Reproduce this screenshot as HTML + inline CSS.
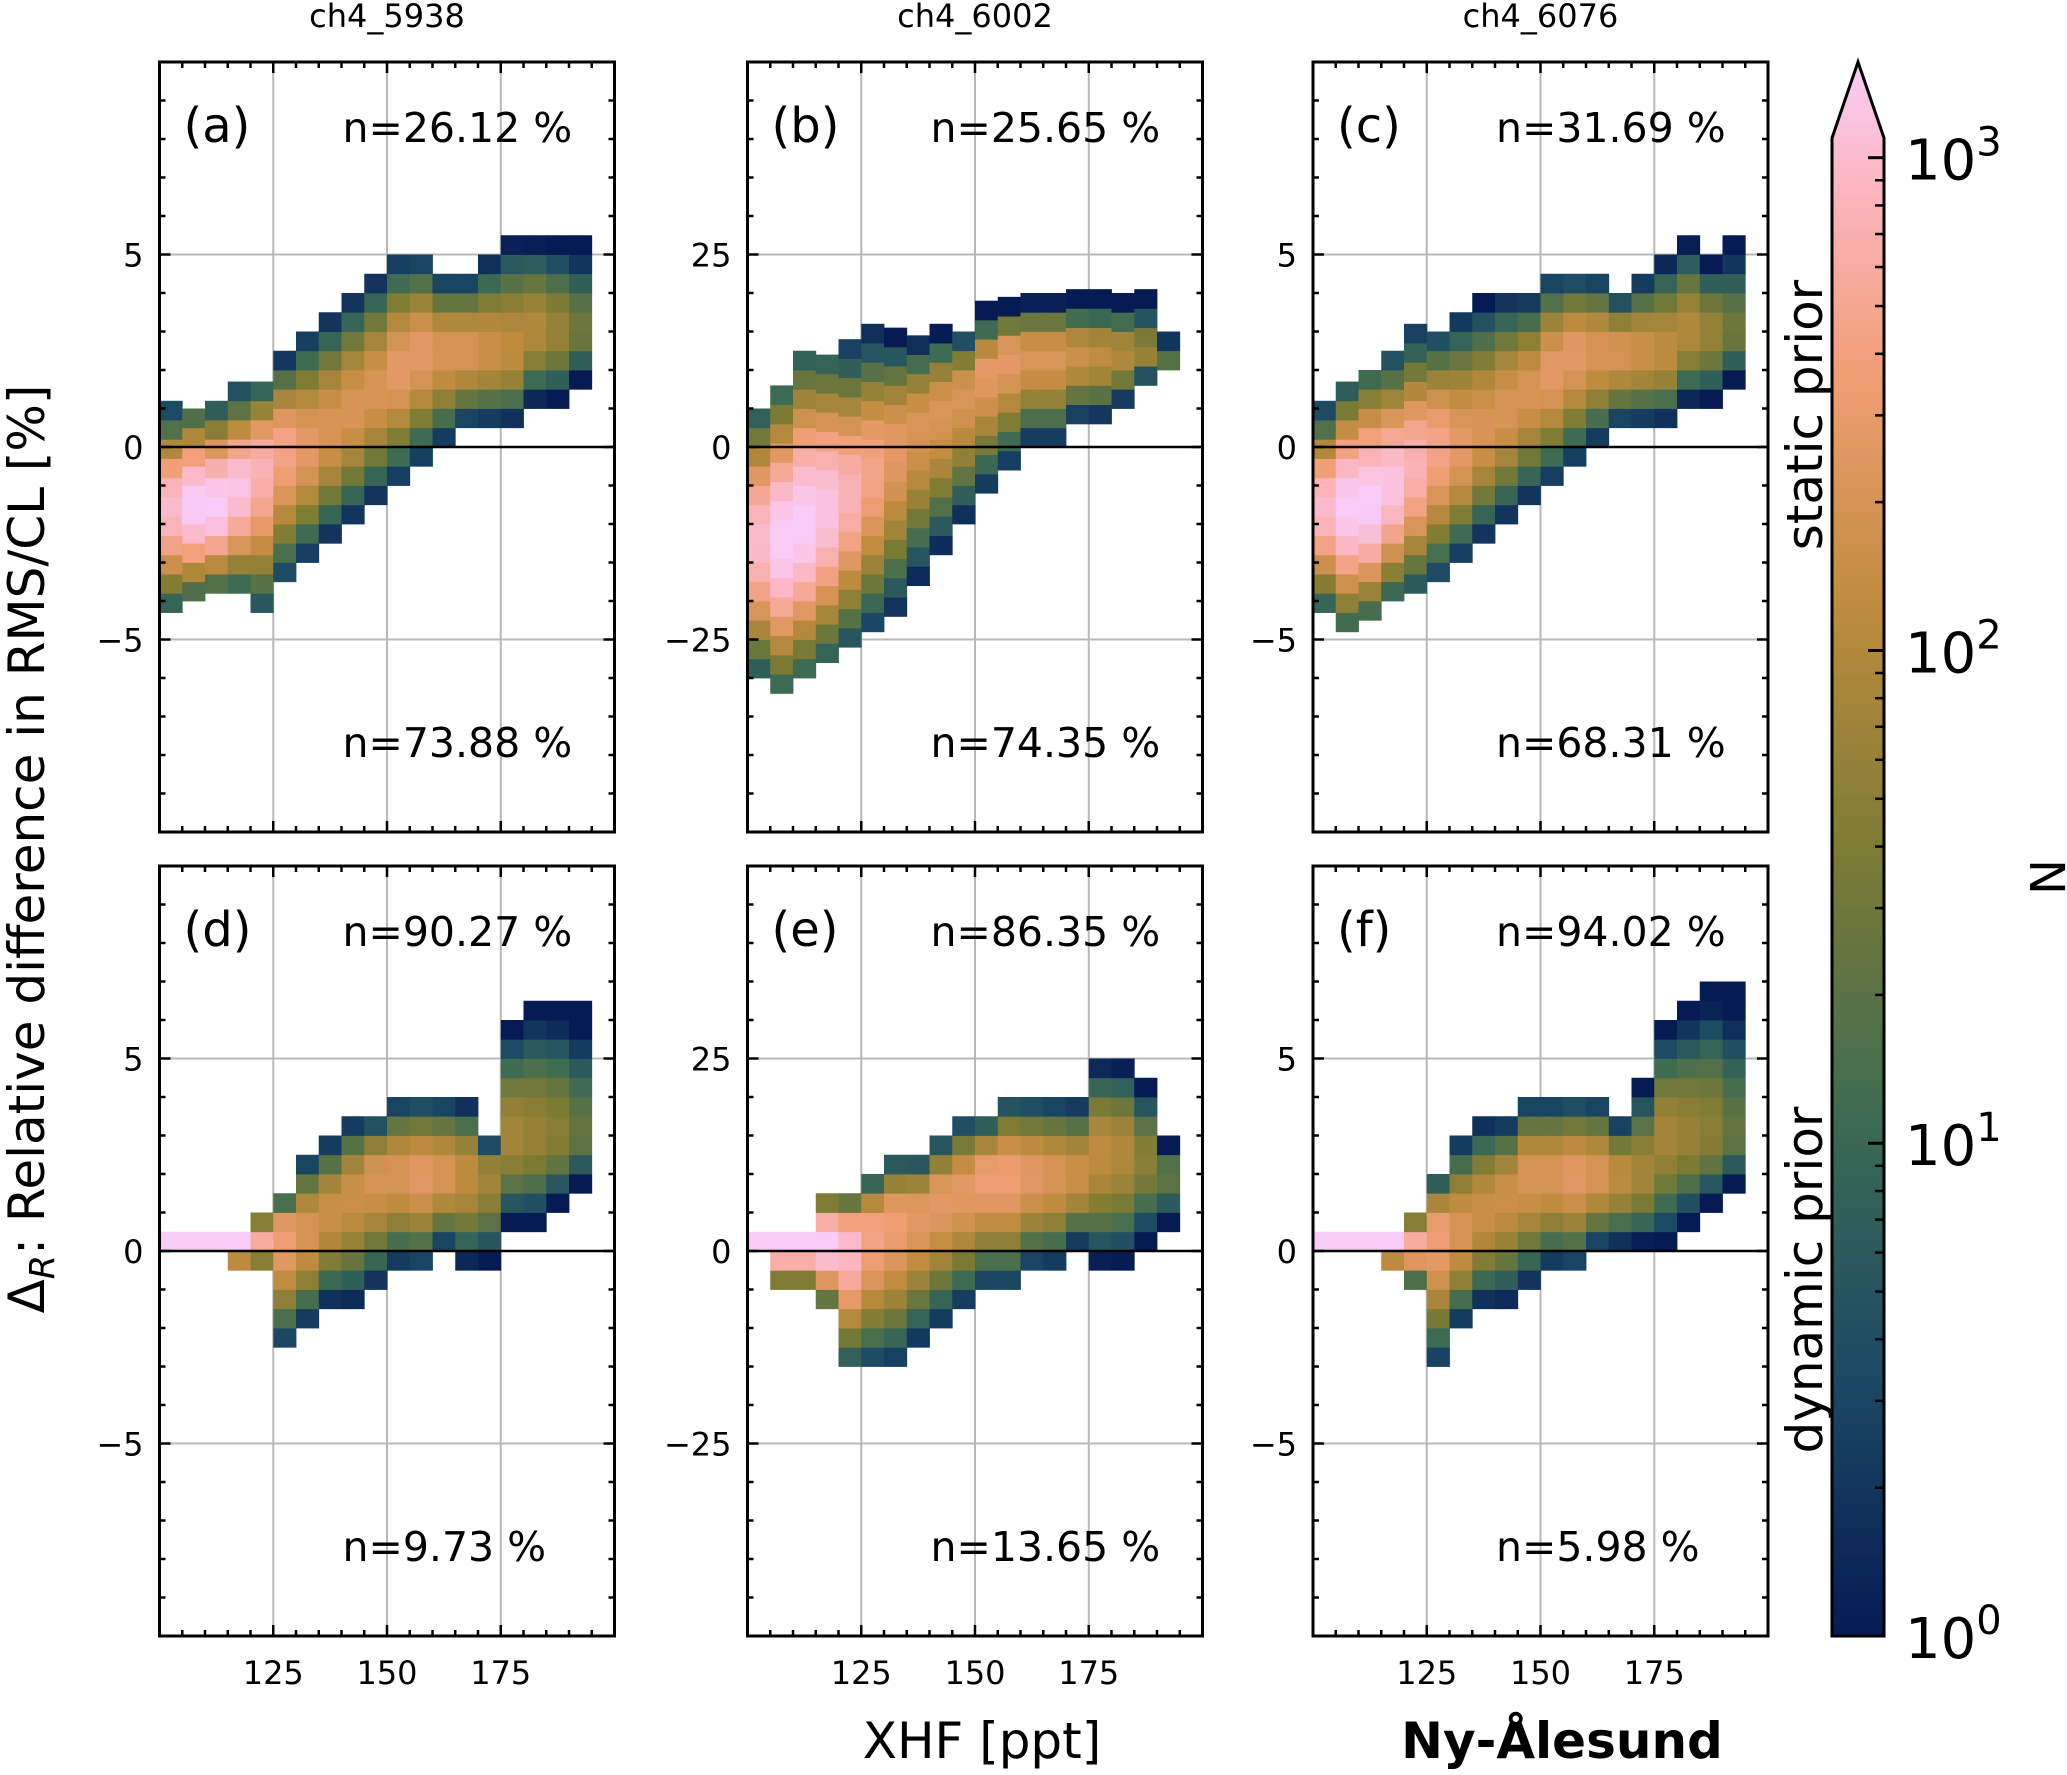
<!DOCTYPE html>
<html><head><meta charset="utf-8"><style>
html,body{margin:0;padding:0;background:#fff;}
svg{display:block;font-family:"DejaVu Sans","Liberation Sans",sans-serif;}
</style></head><body>
<svg id="fig" width="2067" height="1775" viewBox="0 0 2067 1775" xmlns="http://www.w3.org/2000/svg">
<defs>
<linearGradient id="cbg" x1="0" y1="1" x2="0" y2="0">
<stop offset="0" stop-color="#061b54"/><stop offset="0.17" stop-color="#1c4a64"/><stop offset="0.33" stop-color="#3d6b52"/>
<stop offset="0.5" stop-color="#7d7b34"/><stop offset="0.66" stop-color="#c08c3f"/><stop offset="0.8" stop-color="#f09e74"/>
<stop offset="0.92" stop-color="#fbb6c0"/><stop offset="1" stop-color="#f9ccf8"/>
</linearGradient>
</defs>
</svg>
<script>
// ---- data (x segments 100..190 step 5 ppt) ----
const xSeg = [100,105,110,115,120,125,130,135,140,145,150,155,160,165,170,175,180,185,190];
const aLo = [-4.3,-4,-3.8,-3.8,-4.3,-3.5,-3,-2.5,-2,-1.5,-1,-0.5,0,0.5,0.5,0.5,1,1,1.5];
const aHi = [0.8,1,1,1.3,1.7,2.3,3,3.5,4,4.5,5,5,4.5,4.5,5,5.5,5.5,5.5,5.5];
const aCtr = [-1.5,-1.5,-1.5,-1,-0.5,0,0,0.5,1,1.5,2,2.5,2.5,2.5,2.5,2.5,3,3,3];
const aPeak = [2.8,3,3,2.9,2.7,2.5,2.3,2.2,2.2,2.2,2.3,2.3,2.2,2.2,2.1,2,1.9,1.7,1.4];
const bLo = [-30,-32,-30,-28,-26,-24,-22,-18,-14,-10,-6,-3,0,0,3,3,5,8,10];
const bHi = [5,8,12,12,12,14,14,14,15,15,17,18,19,19,19,19,19,19,14];
const bCtr = [-12,-12,-10,-8,-6,-3,0,3,5,7,10,12,12,12,12,12,12,12,12];
const bPeak = [2.8,3,3,2.9,2.7,2.5,2.3,2.2,2.2,2.2,2.3,2.3,2.2,2.2,2.1,2,1.9,1.7,1.4];
const cLo = [-4.3,-4.8,-4.5,-4,-3.8,-3.5,-3,-2.5,-2,-1.5,-1,-0.5,0,0.5,0.5,0.5,1,1,1.5];
const cHi = [0.8,1.5,2,2.2,2.8,3,3.5,3.8,4,4,4.5,4.5,4.5,4,4.5,5,5.5,5,5.5];
const cCtr = [-1.5,-1.5,-1.5,-1,-0.5,0,0,0.5,1,1.5,2,2.5,2.5,2.5,2.5,2.5,3,3,3];
const cPeak = [2.8,3,3,2.9,2.7,2.5,2.3,2.2,2.2,2.2,2.3,2.3,2.2,2.2,2.1,2,1.9,1.7,1.4];
const dLo = [0,0,0,-0.5,-0.5,-2.5,-2,-1.5,-1.5,-1,-0.5,-0.5,0,-0.5,-0.5,0.5,0.5,1,1.5];
const dHi = [0.5,0.5,0.5,0.5,1,1.5,2.5,3,3.5,3.5,4,4,4,4,3,6,6.5,6.5,6.5];
const dCtr = [0.25,0.25,0.25,0.25,0.25,0.5,0.5,1,1.5,2,2,2,2,2,2,3,3,3,3];
const dPeak = [3,3,3,3,2.6,2.4,2.2,2.1,2.1,2.2,2.2,2.3,2.2,2,1.8,1.8,1.7,1.6,1.3];
const eLo = [0,-5,-5,-7.5,-15,-15,-15,-12.5,-10,-7.5,-5,-5,-2.5,-2.5,0,-2.5,-2.5,0,2.5];
const eHi = [2.5,2.5,2.5,7.5,7.5,10,12.5,12.5,15,17.5,17.5,20,20,20,20,25,25,22.5,15];
const eCtr = [1.25,1.25,1.25,1.25,1.25,2.5,4,5,7,8,10,10,10,10,10,13,13,12,10];
const ePeak = [3,3,3,3,2.8,2.5,2.4,2.3,2.3,2.3,2.4,2.4,2.3,2.2,2.1,2,1.9,1.6,1.3];
const fLo = [0,0,0,-0.5,-1,-3,-2,-1.5,-1.5,-1,-0.5,-0.5,0,0,0,0,0.5,1,1.5];
const fHi = [0.5,0.5,0.5,0.5,1,2,3,3.5,3.5,4,4,4,4,3.5,4.5,6,6.5,7,7];
const fCtr = [0.25,0.25,0.25,0.25,0.25,0.5,0.5,1,1.5,2,2,2,2,2,2,3,3,3,3];
const fPeak = [3,3,3,3,2.6,2.4,2.2,2.1,2.1,2.2,2.2,2.3,2.2,2,1.8,1.8,1.7,1.6,1.3];
const labels = ["(a)","(b)","(c)","(d)","(e)","(f)"];
const nTop = ["n=26.12 %","n=25.65 %","n=31.69 %","n=90.27 %","n=86.35 %","n=94.02 %"];
const nBot = ["n=73.88 %","n=74.35 %","n=68.31 %","n=9.73 %","n=13.65 %","n=5.98 %"];
const titles = ["ch4_5938","ch4_6002","ch4_6076"];
const xTicks = [125,150,175];
const cbTicks = ["0","1","2","3"];

const NS="http://www.w3.org/2000/svg";
const svg=document.getElementById('fig');
function mk(tag,attrs,parent){const e=document.createElementNS(NS,tag);for(const k in attrs)e.setAttribute(k,attrs[k]);(parent||svg).appendChild(e);return e;}

const stops=[[0,[6,27,84]],[0.5,[28,74,100]],[1,[61,107,82]],[1.5,[125,123,52]],[2,[192,140,63]],[2.4,[240,158,116]],[2.75,[251,182,192]],[3,[249,204,248]]];
function cmap(v){v=Math.max(0,Math.min(3,v));for(let i=1;i<stops.length;i++){if(v<=stops[i][0]){const a=stops[i-1],b=stops[i];const t=(v-a[0])/(b[0]-a[0]);const c=a[1].map((x,j)=>Math.round(x+(b[1][j]-x)*t));return `rgb(${c})`;}}return 'rgb(249,204,248)';}

const cols=[159.5,747.5,1313];const rows=[62,866];const W=455,H=770;
const panels=[
 {lo:aLo,hi:aHi,ctr:aCtr,pk:aPeak,yr:10,dy:0.5,yt:[-5,0,5],mn:1},
 {lo:bLo,hi:bHi,ctr:bCtr,pk:bPeak,yr:50,dy:2.5,yt:[-25,0,25],mn:5},
 {lo:cLo,hi:cHi,ctr:cCtr,pk:cPeak,yr:10,dy:0.5,yt:[-5,0,5],mn:1},
 {lo:dLo,hi:dHi,ctr:dCtr,pk:dPeak,yr:10,dy:0.5,yt:[-5,0,5],mn:1},
 {lo:eLo,hi:eHi,ctr:eCtr,pk:ePeak,yr:50,dy:2.5,yt:[-25,0,25],mn:5},
 {lo:fLo,hi:fHi,ctr:fCtr,pk:fPeak,yr:10,dy:0.5,yt:[-5,0,5],mn:1}];

panels.forEach((p,pi)=>{
  const L=cols[pi%3],T=rows[Math.floor(pi/3)];
  const X=x=>L+(x-100)/100*W; const Y=y=>T+(p.yr-y)/(2*p.yr)*H;
  const g=mk('g',{});
  
  
  xTicks.forEach(t=>{const l=mk('line',{x1:X(t),x2:X(t),y1:T,y2:T+H,stroke:'#b8b8b8','stroke-width':2},g);});
  p.yt.forEach(t=>{const l=mk('line',{x1:L,x2:L+W,y1:Y(t),y2:Y(t),stroke:'#b8b8b8','stroke-width':2},g);});
  xSeg.forEach((xs,i)=>{
    for(let k=0;k<2;k++){
      const x0=xs+k*2.5;
      const lo=p.lo[i],hi=p.hi[i],c=p.ctr[i];
      for(let y=lo;y<hi-1e-9;y+=p.dy){
        const yc=y+p.dy/2;
        const half=(yc>=c?hi-c:c-lo);
        const d=Math.min(1,Math.abs(yc-c)/Math.max(half,p.dy));
        const v=p.pk[i]-2.3*d*d;
        const r=mk('rect',{x:X(x0),y:Y(y+p.dy),width:W/40+0.4,height:H/(2*p.yr)*p.dy+0.4,fill:cmap(v)},g);
        
        
      }
    }
  });
  const z=mk('line',{x1:L,x2:L+W,y1:Y(0),y2:Y(0),stroke:'#000','stroke-width':2.5},g);
  
  const f=mk('rect',{x:L,y:T,width:W,height:H,fill:'none',stroke:'#000','stroke-width':3},g);
  
  for(let t=105;t<200;t+=5){const maj=t%25===0;const len=maj?11:6;
    mk('line',{x1:X(t),x2:X(t),y1:T+H,y2:T+H-len,stroke:'#000','stroke-width':2.5},g);
    mk('line',{x1:X(t),x2:X(t),y1:T,y2:T+len,stroke:'#000','stroke-width':2.5},g);}
  for(let t=-p.yr+p.mn;t<p.yr;t+=p.mn){const maj=Math.abs(t)%(p.mn*5)===0;const len=maj?11:6;
    mk('line',{x1:L,x2:L+len,y1:Y(t),y2:Y(t),stroke:'#000','stroke-width':2.5},g);
    mk('line',{x1:L+W,x2:L+W-len,y1:Y(t),y2:Y(t),stroke:'#000','stroke-width':2.5},g);}
  p.yt.forEach(t=>{const tx=mk('text',{x:L-16,y:Y(t)+12,'text-anchor':'end','font-size':32},g);tx.textContent=t<0?'\u2212'+(-t):t;
    });
  if(pi>=3) xTicks.forEach(t=>{const tx=mk('text',{x:X(t),y:T+H+48,'text-anchor':'middle','font-size':32},g);tx.textContent=t;
    });
  const lb=mk('text',{x:L+24,y:T+80,'font-size':48},g);lb.textContent=labels[pi];
  
  const n1=mk('text',{x:L+183,y:T+80,'font-size':41},g);n1.textContent=nTop[pi];
  
  const n2=mk('text',{x:L+183,y:T+695,'font-size':41},g);n2.textContent=nBot[pi];
  
});
titles.forEach((t,i)=>{const tx=mk('text',{x:cols[i]+W/2,y:27,'text-anchor':'middle','font-size':32});tx.textContent=t;
  });

const cb=mk('path',{d:'M1832,138 L1858,62 L1884,138 L1884,1636 L1832,1636 Z',fill:'url(#cbg)',stroke:'#000','stroke-width':3});

const CY=v=>1636-(v/3.04)*(1636-138);
cbTicks.forEach(s=>{const v=+s;const y=CY(v);
  mk('line',{x1:1884,x2:1868,y1:y,y2:y,stroke:'#000','stroke-width':3});
  const tx=mk('text',{x:1905,y:y+22,'font-size':56});tx.innerHTML='10<tspan dy="-24" font-size="40">'+s+'</tspan>';
  
  if(v<3){for(let m=2;m<10;m++){const ym=CY(v+Math.log10(m));mk('line',{x1:1884,x2:1875,y1:ym,y2:ym,stroke:'#000','stroke-width':2.5});}}
});
function txt(x,y,s,size,name,extra){const t=mk('text',Object.assign({x:x,y:y,'font-size':size},extra||{}));t.textContent=s;return t;}
txt(2030,877,'N',48,'colorbar-title',{transform:'rotate(90 2030 877)','text-anchor':'middle'});
txt(1822,415,'static prior',50,'row-label-static',{transform:'rotate(-90 1822 415)','text-anchor':'middle'});
txt(1822,1280,'dynamic prior',50,'row-label-dynamic',{transform:'rotate(-90 1822 1280)','text-anchor':'middle'});
const yl=txt(44,849,'',50,'y-axis-title',{transform:'rotate(-90 44 849)','text-anchor':'middle'});
yl.innerHTML='\u0394<tspan dy="10" font-size="35" font-style="italic">R</tspan><tspan dy="-10">: Relative difference in RMS/CL [%]</tspan>';
txt(982,1758,'XHF [ppt]',50,'x-axis-title',{'text-anchor':'middle'});
txt(1562,1758,'Ny-\u00c5lesund',50,'site-label',{'text-anchor':'middle','font-weight':'bold'});
</script>
</body></html>
